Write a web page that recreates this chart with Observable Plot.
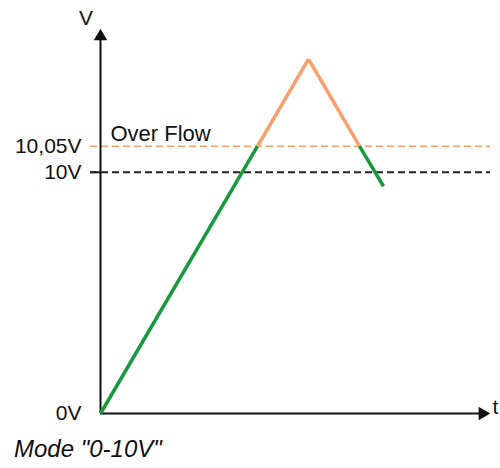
<!DOCTYPE html>
<html>
<head>
<meta charset="utf-8">
<script src="https://cdn.jsdelivr.net/npm/d3@7"></script>
<script src="https://cdn.jsdelivr.net/npm/@observablehq/plot@0.6"></script>
<style>
  body { margin: 0; background: #fff; font-family: "Liberation Sans", Arial, sans-serif; }
  #caption { font-style: italic; font-size: 24px; color: #111; padding-left: 14px; margin-top: 11px; line-height: 26px; }
</style>
</head>
<body>
<div id="chart"></div>
<div id="caption">Mode "0-10V"</div>
<script>
// Schematic voltage signal (t in arbitrary units, V in chart units)
const pointT = [0, 15.7, 20.8, 25.9, 28.3];
const pointV = [0, 11.08, 14.69, 11.08, 9.42];
const segmentState = ["normal", "overflow", "overflow", "normal"];

// Reference levels
const levelV = [10, 11.08];
const levelLabel = ["10V", "10,05V"];
const levelState = ["limit", "overflow"];

// Axis labels
const zeroLabel = ["0V"];
const axisNames = ["V", "t"];
const overflowText = ["Over Flow"];

const colors = { normal: "#179a3c", overflow: "#fa9e6a", limit: "#222222" };

const segments = segmentState.map((s, i) => ({
  t1: pointT[i], v1: pointV[i], t2: pointT[i + 1], v2: pointV[i + 1], state: s
}));
const levels = levelV.map((v, i) => ({ v, label: levelLabel[i], state: levelState[i] }));

const font = "Liberation Sans, Arial, sans-serif";

const chart = Plot.plot({
  width: 500,
  height: 425,
  marginLeft: 100,
  marginRight: 10,
  marginTop: 27,
  marginBottom: 12,
  style: { fontFamily: font, background: "white" },
  x: { domain: [0, 39], axis: null },
  y: { domain: [0, 16], axis: null },
  marks: [
    // dashed reference levels
    Plot.ruleY(levels, {
      y: "v", x1: -1, x2: 39,
      stroke: d => colors[d.state],
      strokeWidth: d => d.state === "limit" ? 2 : 1.6,
      strokeDasharray: "7,4"
    }),
    Plot.ruleY(levels.filter(d => d.state === "limit"), { y: "v", x1: -1, x2: 0, stroke: "#222", strokeWidth: 2 }),
    // axes
    Plot.ruleX([0], { y1: 0, y2: 15.5, stroke: "#111", strokeWidth: 2 }),
    Plot.ruleY([0], { x1: 0, x2: 37.9, stroke: "#111", strokeWidth: 2 }),
    Plot.dot([{ t: 0, v: 15.63, r: 0 }, { t: 38.2, v: 0, r: 90 }], {
      x: "t", y: "v", symbol: "triangle", r: 5, fill: "#111", stroke: "none", rotate: "r"
    }),
    // signal
    Plot.link(segments, {
      x1: "t1", y1: "v1", x2: "t2", y2: "v2",
      stroke: d => colors[d.state], strokeWidth: 3.5, strokeLinecap: "butt"
    }),
    // level labels
    Plot.text(levels, { x: -1.9, y: "v", text: "label", textAnchor: "end", fontSize: 21, fill: "#111" }),
    Plot.text(zeroLabel, { x: -1.9, y: 0, text: d => d, textAnchor: "end", fontSize: 21, fill: "#111" }),
    Plot.text(overflowText, { x: 1.0, y: 11.57, text: d => d, textAnchor: "start", fontSize: 22, fill: "#111" }),
    Plot.text([axisNames[0]], { x: -1.45, y: 16.4, text: d => d, fontSize: 21, fill: "#111" }),
    Plot.text([axisNames[1]], { x: 39.5, y: 0.25, text: d => d, fontSize: 21, fill: "#111" })
  ]
});
document.getElementById("chart").appendChild(chart);
</script>
</body>
</html>
